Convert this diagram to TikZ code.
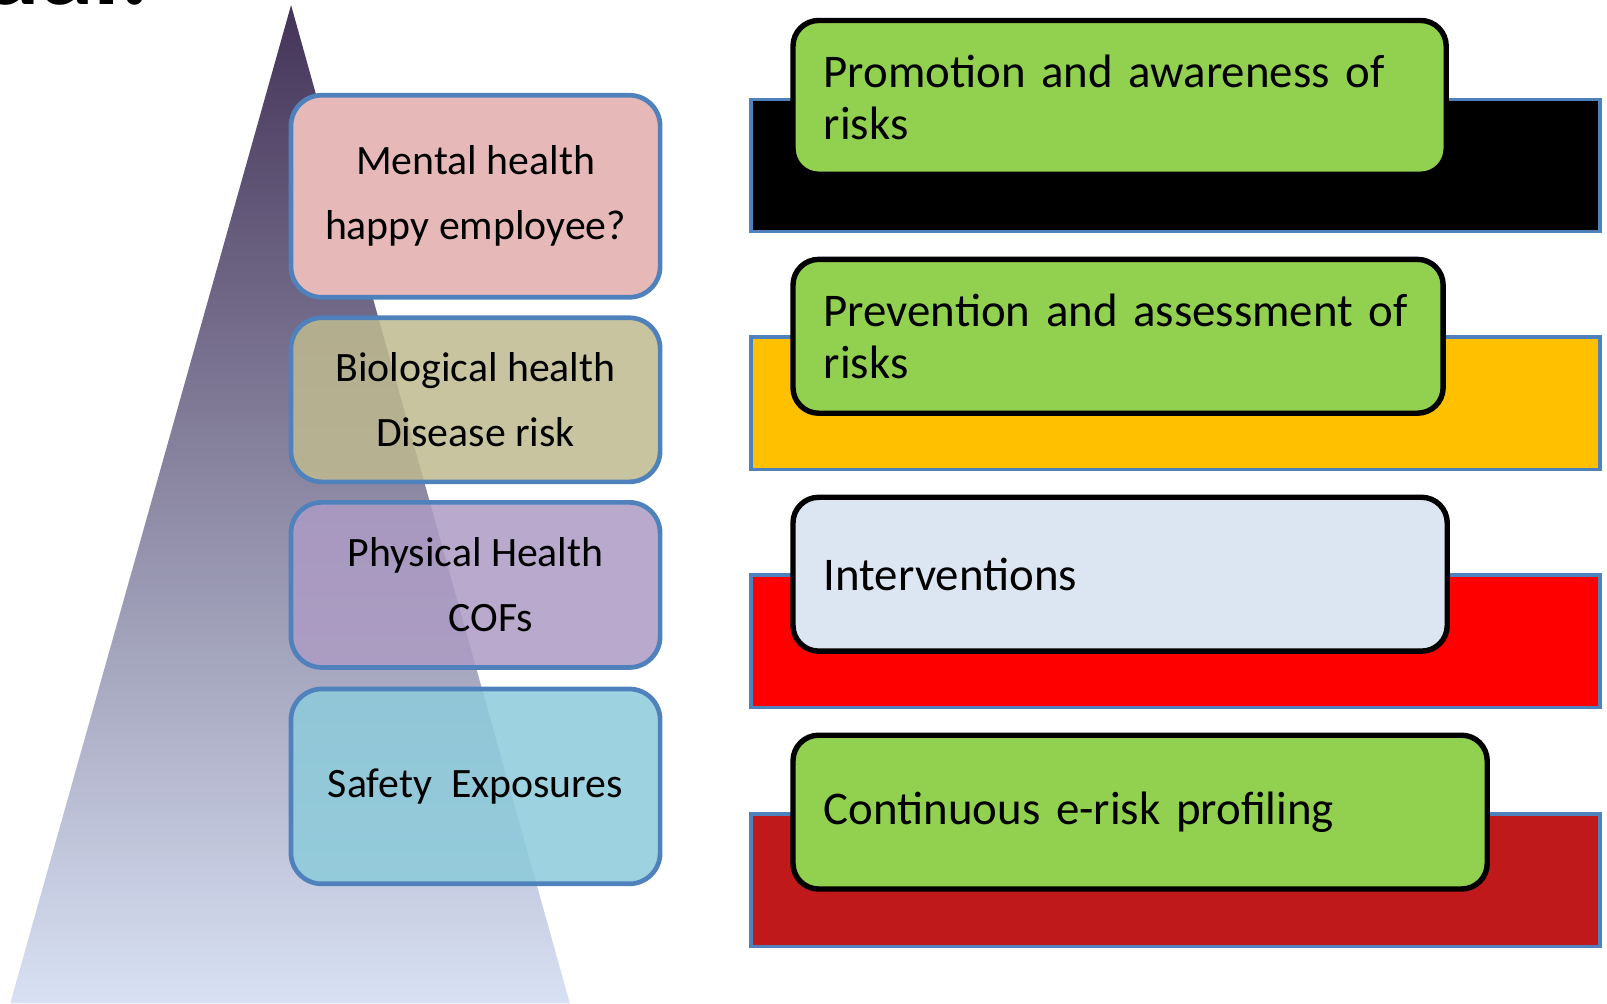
\documentclass[tikz,border=0pt]{standalone}
\usepackage{fontspec}
\setmainfont{Carlito}
\newfontfamily\actionfont{Carlito}[WordSpace=0.8]
\usetikzlibrary{positioning}
\definecolor{pyrtop}{RGB}{68,52,88}
\definecolor{pyrbot}{RGB}{216,225,244}
\definecolor{frameblue}{RGB}{79,129,189}
\definecolor{mentalpink}{RGB}{230,185,184}
\definecolor{bioolive}{RGB}{191,186,143}
\definecolor{physlilac}{RGB}{173,155,196}
\definecolor{safecyan}{RGB}{140,203,218}
\definecolor{leafgreen}{RGB}{146,208,80}
\definecolor{paleblue}{RGB}{220,230,242}
\definecolor{amber}{RGB}{255,192,0}
\definecolor{darkred}{RGB}{192,25,27}
\tikzset{
  tier/.style={draw=frameblue, line width=1.3pt, rounded corners=0.3cm,
    minimum width=3.6cm, outer sep=0pt, align=center, text opacity=1,
    font=\fontsize{11.6}{18}\selectfont},
  band/.style={draw=frameblue, line width=1pt, minimum width=8.28cm,
    minimum height=1.29cm, outer sep=0pt},
  action/.style={draw=black, line width=1.5pt, rounded corners=0.25cm,
    minimum height=1.5cm, inner xsep=0.3cm, align=left, anchor=north west,
    outer sep=0pt, font=\actionfont\fontsize{13}{14.6}\selectfont}
}

\begin{document}
\begin{tikzpicture}[x=0.01cm, y=-0.01cm]
    \useasboundingbox (0,0) rectangle (1568,979);
    % cut-off title at the top
    \begin{scope}
      \clip (0,0) rectangle (200,30);
      \node[anchor=base west, inner sep=0pt, font=\fontsize{30}{30}\selectfont\bfseries] (title) at (-18,4) {ual.};
    \end{scope}
    % pyramid behind the levels
    \shade[top color=pyrtop, bottom color=pyrbot] (284,5) -- (556,979) -- (10,979) -- cycle;
    % the four health levels
    \node[tier, fill=mentalpink, minimum height=1.97cm] (mental) at (464,191.5) {Mental health\\happy employee?};
    \node[tier, fill=bioolive, fill opacity=0.85, minimum height=1.6cm, below=0.2cm of mental] (bio) {Biological health\\Disease risk};
    \node[tier, fill=physlilac, fill opacity=0.85, minimum height=1.61cm, below=0.2cm of bio] (phys) {Physical Health\\\hspace*{0.3cm}COFs};
    \node[tier, fill=safecyan, fill opacity=0.85, minimum height=1.9cm, below=0.21cm of phys] (safety) {Safety\ \ Exposures};
    % coloured bands on the right
    \node[band, fill=black] (b1) at (1147,161.5) {};
    \node[band, fill=amber, below=1.03cm of b1] (b2) {};
    \node[band, fill=red, below=1.03cm of b2] (b3) {};
    \node[band, fill=darkred, below=1.04cm of b3] (b4) {};
    % actions on top of the bands
    \node[action, fill=leafgreen, text width=5.77cm] (promo) at ([shift={(41,-77)}]b1.north west) {\mbox{Promotion and awareness of}\\risks};
    \node[action, fill=leafgreen, text width=5.74cm] (prev) at ([shift={(41,-76)}]b2.north west) {\mbox{Prevention and assessment of}\\risks};
    \node[action, fill=paleblue, text width=5.78cm] (interv) at ([shift={(41,-76)}]b3.north west) {Interventions};
    \node[action, fill=leafgreen, text width=6.17cm] (profile) at ([shift={(41,-77)}]b4.north west) {Continuous e-risk profiling};
\end{tikzpicture}
\end{document}
